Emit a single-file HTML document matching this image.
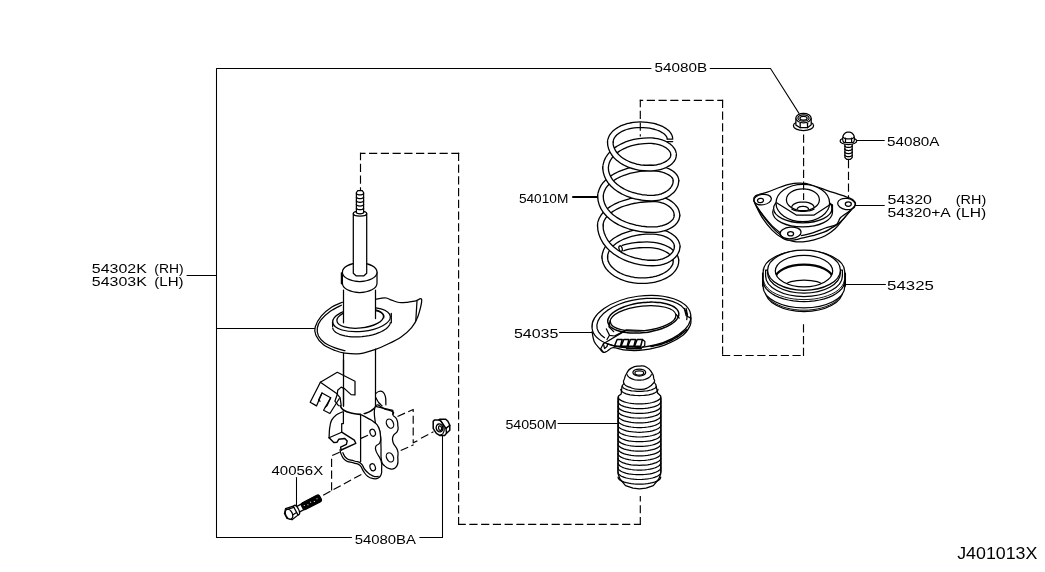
<!DOCTYPE html>
<html><head><meta charset="utf-8"><title>Front suspension strut diagram</title>
<style>
html,body{margin:0;padding:0;background:#fff;}
body{width:1045px;height:572px;overflow:hidden;font-family:"Liberation Sans",sans-serif;}
svg{display:block;filter:grayscale(1);}
svg text{font-family:"Liberation Sans",sans-serif;fill:#000;stroke:none;}
</style></head><body>
<svg width="1045" height="572" viewBox="0 0 1045 572">
<rect width="1045" height="572" fill="#fff"/>
<g fill="none" stroke="#000" stroke-width="1.25" stroke-linecap="round" stroke-linejoin="round">
<path d="M651 68.5 L216.5 68.5 L216.5 537.5 L351.5 537.5" fill="none" stroke-width="1.05"/>
<path d="M710.2 68.5 L770.5 68.5 L799 113.4" fill="none" stroke-width="1.05"/>
<line x1="187" y1="275.5" x2="216.5" y2="275.5" stroke-width="1.05"/>
<line x1="216.5" y1="328.5" x2="314.7" y2="328.5" stroke-width="1.05"/>
<path d="M419.8 537.5 L442.5 537.5 L442.5 435.5" fill="none" stroke-width="1.05"/>
<line x1="296.5" y1="477.6" x2="296.5" y2="506.5" stroke-width="1.05"/>
<line x1="573" y1="197.1" x2="597" y2="197.1" stroke-width="2"/>
<line x1="559.5" y1="332.5" x2="592" y2="332.5" stroke-width="1.05"/>
<line x1="558" y1="423.5" x2="617.5" y2="423.5" stroke-width="1.05"/>
<line x1="857" y1="140.5" x2="884.3" y2="140.5" stroke-width="1.05"/>
<line x1="854.6" y1="205.5" x2="884.3" y2="205.5" stroke-width="1.05"/>
<line x1="844.8" y1="284.5" x2="885.4" y2="284.5" stroke-width="1.05"/>
<path d="M342.4 302.3 C340.7 303.1 335.4 304.8 331.9 307.1 C328.4 309.4 324.2 312.6 321.4 315.9 C318.7 319.2 316.1 323.8 315.2 327 C314.2 330.3 314.6 332.4 316 335.4 C317.4 338.4 320.4 342.3 323.5 344.8 C326.7 347.3 331.5 349.1 335.1 350.5 C338.6 351.9 340.7 352.7 344.9 353.2 C349.1 353.7 355.1 354.3 360.2 353.6 C365.3 353 370.8 351.1 375.5 349.4 C380.3 347.8 384.3 345.9 388.5 343.8 C392.8 341.7 397.3 339.5 401.1 336.9 C405 334.2 408.8 331 411.6 327.6 C414.4 324.2 416.2 321.2 417.9 316.5 C419.6 311.9 422 302.4 421.7 299.7 C421.3 297.1 418.2 300.4 415.8 300.8 C413.4 301.2 410.2 302 407.4 302.3 C404.6 302.5 401.6 302.8 399 302.5 C396.4 302.1 393.9 300.9 391.7 300.2 C389.4 299.4 388 298 385.4 297.9 C382.8 297.7 377.5 298.9 376 299.1" fill="#fff"/>
<path d="M341.4 305.2 C339.5 306.2 333.7 308.8 330.3 311.3 C326.8 313.8 323 317.3 320.8 320.1 C318.7 322.9 317.6 325.4 317.3 328.1 C316.9 330.7 317.3 333.5 318.5 336 C319.8 338.5 322 341 324.8 342.9 C327.6 344.9 331.7 346.5 335.1 347.8 C338.4 349 343.3 350.2 344.9 350.7" fill="none"/>
<path d="M417 301 L415.8 320.7" fill="none"/>
<ellipse cx="361.5" cy="319.4" rx="29" ry="12" fill="#fff" transform="rotate(-6 361.5 319.4)"/>
<path d="M390.3 322.6 L390 324.2 L389.1 325.7 L387.8 327.2 L386.2 328.7 L384.1 330.1 L381.6 331.5 L378.9 332.7 L375.9 333.8 L372.6 334.8 L369.2 335.6 L365.6 336.2 L362 336.6 L358.4 336.9 L354.8 336.9 L351.3 336.8 L348 336.4 L344.9 335.9 L342.1 335.2 L339.6 334.3 L337.4 333.3 L335.6 332.2 L334.2 330.9 L333.2 329.5 L332.7 328" fill="none"/>
<path d="M391.3 313.4 L391.3 322.8" fill="none"/>
<path d="M332.6 322.2 L332.6 326.4" fill="none"/>
<ellipse cx="360.2" cy="318.4" rx="23.4" ry="9.6" fill="none" transform="rotate(-6 360.2 318.4)"/>
<path d="M366.4 309.7 L367.8 309.7 L369.1 309.8 L370.4 309.9 L371.6 310 L372.8 310.1 L374 310.3 L375.1 310.5 L376.2 310.8 L377.2 311 L378.2 311.3 L379.1 311.7 L379.9 312 L380.6 312.4 L381.3 312.8 L381.9 313.2 L382.5 313.7 L382.9 314.1 L383.3 314.6 L383.6 315.1 L383.8 315.6 L383.9 316.2 L383.9 316.7 L383.8 317.2 L383.7 317.8" fill="none"/>
<path d="M343.5 288 L343.5 322.6 Q352 327.5 361 327 Q370 326 375.5 319.5 L375.5 288 Z" fill="#fff" stroke="none"/>
<path d="M343.5 290 L343.5 322.8" fill="none"/>
<path d="M375.5 290 L375.5 318.5" fill="none"/>
<path d="M343.5 353.4 L343.5 406" fill="none"/>
<path d="M375.5 349 L375.5 407" fill="none"/>
<path d="M342.4 272.2 L342.4 283.2 A17.3 9.3 0 0 0 377 283.2 L377 272.2 Z" fill="#fff"/>
<ellipse cx="359.7" cy="272.2" rx="17.3" ry="9.3" fill="#fff"/>
<path d="M341.4 272.8 L341.4 283.8" fill="none"/>
<path d="M353.3 213.6 L353.3 273.3 L356 275.8 L364 275.8 L366.7 273.3 L366.7 213.6 Z" fill="#fff"/>
<ellipse cx="360" cy="213.6" rx="6.7" ry="2.6" fill="#fff"/>
<path d="M356.4 212.5 L356.4 192.5 L357.8 190.6 L362.2 190.6 L363.6 192.5 L363.6 212.5" fill="#fff"/>
<path d="M363.6 212.3 L363.6 212.5 L363.5 212.7 L363.3 212.9 L363.1 213.1 L362.9 213.2 L362.5 213.4 L362.2 213.5 L361.8 213.6 L361.4 213.7 L360.9 213.7 L360.5 213.8 L360 213.8 L359.5 213.8 L359.1 213.7 L358.6 213.7 L358.2 213.6 L357.8 213.5 L357.5 213.4 L357.1 213.2 L356.9 213.1 L356.7 212.9 L356.5 212.7 L356.4 212.5 L356.4 212.3" fill="none"/>
<path d="M363.6 193.3 L363.6 193.5 L363.5 193.7 L363.3 193.9 L363.1 194.1 L362.9 194.3 L362.5 194.4 L362.2 194.6 L361.8 194.7 L361.4 194.8 L360.9 194.8 L360.5 194.9 L360 194.9 L359.5 194.9 L359.1 194.8 L358.6 194.8 L358.2 194.7 L357.8 194.6 L357.5 194.4 L357.1 194.3 L356.9 194.1 L356.7 193.9 L356.5 193.7 L356.4 193.5 L356.4 193.3" fill="none"/>
<path d="M363.6 197 L363.6 197.2 L363.5 197.4 L363.3 197.6 L363.1 197.8 L362.9 198 L362.5 198.1 L362.2 198.3 L361.8 198.4 L361.4 198.5 L360.9 198.5 L360.5 198.6 L360 198.6 L359.5 198.6 L359.1 198.5 L358.6 198.5 L358.2 198.4 L357.8 198.3 L357.5 198.1 L357.1 198 L356.9 197.8 L356.7 197.6 L356.5 197.4 L356.4 197.2 L356.4 197" fill="none"/>
<path d="M363.6 200.7 L363.6 200.9 L363.5 201.1 L363.3 201.3 L363.1 201.5 L362.9 201.7 L362.5 201.8 L362.2 202 L361.8 202.1 L361.4 202.2 L360.9 202.2 L360.5 202.3 L360 202.3 L359.5 202.3 L359.1 202.2 L358.6 202.2 L358.2 202.1 L357.8 202 L357.5 201.8 L357.1 201.7 L356.9 201.5 L356.7 201.3 L356.5 201.1 L356.4 200.9 L356.4 200.7" fill="none"/>
<path d="M363.6 204.4 L363.6 204.6 L363.5 204.8 L363.3 205 L363.1 205.2 L362.9 205.4 L362.5 205.5 L362.2 205.7 L361.8 205.8 L361.4 205.9 L360.9 205.9 L360.5 206 L360 206 L359.5 206 L359.1 205.9 L358.6 205.9 L358.2 205.8 L357.8 205.7 L357.5 205.5 L357.1 205.4 L356.9 205.2 L356.7 205 L356.5 204.8 L356.4 204.6 L356.4 204.4" fill="none"/>
<path d="M363.6 208.1 L363.6 208.3 L363.5 208.5 L363.3 208.7 L363.1 208.9 L362.9 209.1 L362.5 209.2 L362.2 209.4 L361.8 209.5 L361.4 209.6 L360.9 209.6 L360.5 209.7 L360 209.7 L359.5 209.7 L359.1 209.6 L358.6 209.6 L358.2 209.5 L357.8 209.4 L357.5 209.2 L357.1 209.1 L356.9 208.9 L356.7 208.7 L356.5 208.5 L356.4 208.3 L356.4 208.1" fill="none"/>
<path d="M340.1 405.6 C340.6 406.3 341.3 408.8 343.3 410 C345.2 411.3 348.9 412.5 351.9 413.2 C354.9 413.9 358.5 414.5 361.3 414.3 C364.2 414.1 366.8 413.1 369.2 411.9 C371.6 410.7 374.4 408 375.5 407.2" fill="none" stroke-width="1.6"/>
<path d="M375.5 406.3 C378 402.4 380.3 407.7 384.9 409.1 C389.5 410.6 390.6 410.2 392.8 411.8 C395 413.4 392.1 413.3 393.1 415.3 C394.2 417.2 395.5 416.5 396.7 419.2 C398 421.8 397.6 422 397.8 425.2 C398 428.3 398.8 428 397.5 431 C396.3 433.9 394.3 433.1 393.1 436.2 C391.9 439.2 391.9 438.7 393.1 442.5 C394.3 446.2 396.3 446.3 397.5 450.3 C398.8 454.3 397.8 453.6 397.8 457.4 C397.8 461.2 398.4 461.5 397.5 464.5 C396.6 467.4 396.5 467.3 394.4 468.4 C392.3 469.6 392.2 469.4 389.7 468.7 C387.1 468.1 387.1 468.2 384.9 466.1 C382.8 463.9 382.5 465.6 381.5 460.6 C380.4 455.5 381.3 453.7 381 447.2 C380.7 440.7 381.2 441.4 380.5 436.2 C379.9 430.9 380 430.9 378.6 427.5 C377.3 424.2 376.3 429.3 375.5 423.6 C374.7 417.9 373 410.1 375.5 406.3 Z" fill="#fff"/>
<ellipse cx="390" cy="423.6" rx="3.4" ry="4.8" fill="none" transform="rotate(-25 390 423.6)"/>
<ellipse cx="390" cy="457.4" rx="3.4" ry="4.8" fill="none" transform="rotate(-25 390 457.4)"/>
<path d="M375.5 393.8 C376 393.4 377.5 391.8 378.6 391.5 C379.8 391.1 381.4 390.9 382.6 391.8 C383.7 392.6 384.9 394.3 385.4 396.5 C386 398.7 385.8 403.4 385.9 404.8" fill="none"/>
<path d="M375.8 397.7 C376.3 398.5 377.6 401.1 378.6 402.5 C379.7 403.8 381.5 405.3 382.1 405.9" fill="none"/>
<path d="M375.5 406.4 L392.8 410.3 L392.8 414.3" fill="none"/>
<path d="M360.6 414.5 C362.4 408.8 364.1 416.1 367.6 418.1 C371.2 420.1 371 419.5 373.9 422 C376.9 424.5 376.9 423.7 378.6 427.5 C380.4 431.3 380.2 432.1 380.5 436.2 C380.9 440.2 381.2 440.1 379.9 442.8 C378.6 445.5 376.7 444 375.8 446.4 C374.9 448.8 375.1 448.1 376.4 451.9 C377.8 455.7 379.6 455.9 381 460.6 C382.4 465.2 381.6 465.6 381.6 469.2 C381.7 472.9 382 471.9 381.2 474.2 C380.3 476.6 380.5 476.8 378.3 478 C376.2 479.2 376 479.1 373.1 478.6 C370.3 478.2 370.3 478.4 367.6 476.3 C365 474.2 365.3 473.7 363.2 470.8 C361.1 467.8 362.4 467.4 359.8 465.3 C357.2 463.2 357.3 464.2 353.5 462.9 C349.7 461.7 348.9 462.9 345.6 460.6 C342.3 458.2 342.7 457.2 341.2 454.3 C339.7 451.3 338.5 451.9 340.1 449.5 C341.7 447.2 341.7 448.3 347.2 445.6 C352.6 442.9 357 447.6 360.6 439.3 C364.1 431 358.7 420.1 360.6 414.5 Z" fill="#fff" stroke="none"/>
<path d="M360.6 414.5 C362.4 415.4 364.1 416.1 367.6 418.1 C371.2 420.1 371 419.5 373.9 422 C376.9 424.5 376.9 423.7 378.6 427.5 C380.4 431.3 380.2 432.1 380.5 436.2 C380.9 440.2 381.2 440.1 379.9 442.8 C378.6 445.5 376.7 444 375.8 446.4 C374.9 448.8 375.1 448.1 376.4 451.9 C377.8 455.7 379.6 455.9 381 460.6 C382.4 465.2 381.6 465.6 381.6 469.2 C381.7 472.9 382 471.9 381.2 474.2 C380.3 476.6 380.5 476.8 378.3 478 C376.2 479.2 376 479.1 373.1 478.6 C370.3 478.2 370.3 478.4 367.6 476.3 C365 474.2 365.3 473.7 363.2 470.8 C361.1 467.8 362.4 467.4 359.8 465.3 C357.2 463.2 357.3 464.2 353.5 462.9 C349.7 461.7 348.9 462.9 345.6 460.6 C342.3 458.2 342.7 457.2 341.2 454.3 C339.7 451.3 340.4 450.8 340.1 449.5" fill="none"/>
<path d="M342.8 452.7 C343.8 454.2 343.7 456.3 346.7 458.5 C349.8 460.7 350.5 459.7 354.3 461 C358 462.3 358.1 461.1 360.9 463.4 C363.7 465.6 362.5 466.7 364.8 469.5 C367.1 472.3 367.1 472.1 369.5 473.9 C372 475.8 371.6 475.8 373.9 476.4 C376.2 477.1 377 476.4 378.2 476.4" fill="none"/>
<path d="M360.6 414.5 L360.6 461.7" fill="none"/>
<ellipse cx="372.7" cy="432.7" rx="2.6" ry="3.6" fill="none" transform="rotate(-20 372.7 432.7)"/>
<ellipse cx="372.7" cy="467.3" rx="2.6" ry="3.6" fill="none" transform="rotate(-20 372.7 467.3)"/>
<path d="M342.8 411.8 C341.7 412.3 338.1 413.5 336.2 414.9 C334.3 416.4 332.6 418.2 331.5 420.4 C330.4 422.7 330 425.4 329.6 428.3 C329.2 431.2 329.2 436.2 329.1 437.7" fill="none"/>
<path d="M329.1 437.7 L341.7 432.2 L341.7 423.6 L343.4 423.6 L343.4 411.8" fill="none"/>
<path d="M341.7 432.2 L354.3 440.1 L355.8 443.3 L341.2 450" fill="none" stroke-width="1.4"/>
<path d="M329.1 437.7 L333.8 442.5 L337.1 442.2 L338.7 439.3 L344.8 438.5 L347.2 440.9 L346.4 444.4 L340.6 447.2 L341.2 450" fill="none" stroke-width="1.4"/>
<path d="M320.4 382.3 L337.3 372.3 L355 381.2 L355 394.9 L351.1 394.6 L344.5 388.6 L341.2 387.1 L337.7 390.2 L337.3 394.3 L340.1 397.7 L341.2 405.6" fill="#fff"/>
<path d="M320.4 382.3 L310.2 402.2 L316.5 405.9 L322 393 L330.7 397.7 L323.6 410.3 L329.9 413.5 L339.3 398.5" fill="none"/>
<path d="M320.4 382.3 L337.4 394.1" fill="none"/>
<path d="M322 393 L318.6 400.1 L320.1 401.2" fill="none"/>
<path d="M330.7 397.7 L327.1 405.6 L325.2 407.2" fill="none"/>
<path d="M337.3 394.3 L334.9 401.2 L338.5 405.6" fill="none"/>
<path d="M343.5 360 L343.5 406" fill="none"/>
<g transform="translate(291.6 512.6) rotate(-27.6)">
<rect x="5" y="-3.1" width="27" height="6.2" rx="1.5" fill="#fff"/>
<rect x="12" y="-3.7" width="20.5" height="7.4" rx="2.2" fill="#000"/>
<circle cx="14.5" cy="-0.4" r="0.55" fill="#fff" stroke="none"/>
<circle cx="18.1" cy="0.6" r="0.55" fill="#fff" stroke="none"/>
<circle cx="21.7" cy="-0.4" r="0.55" fill="#fff" stroke="none"/>
<circle cx="25.3" cy="0.6" r="0.55" fill="#fff" stroke="none"/>
<circle cx="28.9" cy="-0.4" r="0.55" fill="#fff" stroke="none"/>
<ellipse cx="5.5" cy="0" rx="2.2" ry="5.2" fill="#fff"/>
<path d="M4.5 -5 L-3.5 -6.4 L-6.8 -2.5 L-6.8 3 L-3 6.5 L4.5 5.2 Z" fill="#fff"/>
<ellipse cx="-3" cy="0.2" rx="3.3" ry="5.2" fill="#fff"/>
<line x1="-3" y1="-5" x2="4.5" y2="-3.6"/><line x1="-0.2" y1="2.6" x2="4.5" y2="2.2"/>
</g>
<path d="M433.2 421.3 L434.4 420.1 L439 419.9 L439.7 419.2 L445.7 419.2 L447.9 421.3 L449.8 425.3 L449.8 430.2 L446.5 433.3 L444.8 435.4 L439.6 435.4 L436.4 433.4 L434.7 430.8 L433.2 428.4 Z" fill="#fff" stroke-width="1.5"/>
<path d="M441.1 421.3 L446 428.4 L449.8 425.3" fill="none" stroke-width="1.4"/>
<path d="M446 428.4 L446.5 433.3" fill="none" stroke-width="1.4"/>
<path d="M439 419.9 L441.1 421.3" fill="none" stroke-width="1.4"/>
<path d="M441.1 421.3 C441.5 422.1 443.1 424.4 443.6 425.9 C444.1 427.4 444.3 428.9 444.2 430.2 C444 431.5 443.4 433 442.7 433.9 C441.9 434.7 440.1 435.2 439.6 435.4" fill="none" stroke-width="1.2"/>
<ellipse cx="439.5" cy="427.9" rx="3.3" ry="4" fill="none" transform="rotate(-10 439.5 427.9)" stroke-width="1.4"/>
<ellipse cx="440.1" cy="428.1" rx="1.5" ry="2.3" fill="none" transform="rotate(-10 440.1 428.1)" stroke-width="1.2"/>
<path d="M676 261 L675.8 259.2 L675.3 257.4 L674.4 255.6 L673.1 253.9 L671.5 252.3 L669.6 250.8 L667.4 249.5 L665 248.3 L662.3 247.2 L659.4 246.3 L656.4 245.6 L653.2 245.1 L650 244.8 L646.7 244.7 L646.7 244.7 L642.9 244.8 L639.1 245 L635.4 245.4 L631.9 245.9 L628.5 246.5 L625.4 247.3 L622.5 248.2" stroke="#000" stroke-width="6.8" stroke-linecap="butt"/>
<path d="M676.1 261.9 L676 261 L675.8 259.2 L675.3 257.4 L674.4 255.6 L673.1 253.9 L671.5 252.3 L669.6 250.8 L667.4 249.5 L665 248.3 L662.3 247.2 L659.4 246.3 L656.4 245.6 L653.2 245.1 L650 244.8 L646.7 244.7 L646.7 244.7 L642.9 244.8 L639.1 245 L635.4 245.4 L631.9 245.9 L628.5 246.5 L625.4 247.3 L622.5 248.2 L621.7 248.4" stroke="#fff" stroke-width="4.2" stroke-linecap="butt"/>
<ellipse cx="620.6" cy="248.6" rx="1.6" ry="2.9" fill="#fff" transform="rotate(-15 620.6 248.6)"/>
<path d="M677.2 247.4 L677.2 246.5 L677 244.8 L676.5 243.1 L675.7 241.4 L674.6 239.9 L673.2 238.4 L671.5 237 L669.5 235.7 L667.3 234.5 L664.9 233.5 L662.3 232.7 L659.6 232.1 L656.8 231.6 L653.8 231.3 L650.9 231.2 L650.9 231.2 L645.7 231.4 L640.6 231.8 L635.7 232.6 L630.9 233.8 L626.4 235.2 L622.2 236.8 L618.3 238.8 L614.9 240.9 L611.9 243.3 L609.4 245.8 L607.4 248.5 L606 251.3 L605.1 254.1 L604.8 257 L604.9 258.5" stroke="#000" stroke-width="6.8" stroke-linecap="butt"/>
<path d="M677.1 248.3 L677.2 247.4 L677.2 246.5 L677 244.8 L676.5 243.1 L675.7 241.4 L674.6 239.9 L673.2 238.4 L671.5 237 L669.5 235.7 L667.3 234.5 L664.9 233.5 L662.3 232.7 L659.6 232.1 L656.8 231.6 L653.8 231.3 L650.9 231.2 L650.9 231.2 L645.7 231.4 L640.6 231.8 L635.7 232.6 L630.9 233.8 L626.4 235.2 L622.2 236.8 L618.3 238.8 L614.9 240.9 L611.9 243.3 L609.4 245.8 L607.4 248.5 L606 251.3 L605.1 254.1 L604.8 257 L604.9 258.5 L604.9 259.4" stroke="#fff" stroke-width="4.2" stroke-linecap="butt"/>
<path d="M677 216.4 L677 215.4 L676.8 213.5 L676.4 211.7 L675.7 209.9 L674.6 208.2 L673.3 206.6 L671.8 205.1 L670 203.7 L668 202.4 L665.8 201.3 L663.4 200.4 L660.9 199.7 L658.3 199.2 L655.7 198.9 L653 198.8 L653 198.8 L647.1 199 L641.3 199.5 L635.6 200.3 L630.1 201.4 L625 202.9 L620.1 204.6 L615.7 206.6 L611.8 208.9 L608.4 211.3 L605.5 213.9 L603.3 216.7 L601.6 219.6 L600.6 222.5 L600.3 225.5 L600.4 227.1" stroke="#000" stroke-width="6.8" stroke-linecap="butt"/>
<path d="M676.9 217.3 L677 216.4 L677 215.4 L676.8 213.5 L676.4 211.7 L675.7 209.9 L674.6 208.2 L673.3 206.6 L671.8 205.1 L670 203.7 L668 202.4 L665.8 201.3 L663.4 200.4 L660.9 199.7 L658.3 199.2 L655.7 198.9 L653 198.8 L653 198.8 L647.1 199 L641.3 199.5 L635.6 200.3 L630.1 201.4 L625 202.9 L620.1 204.6 L615.7 206.6 L611.8 208.9 L608.4 211.3 L605.5 213.9 L603.3 216.7 L601.6 219.6 L600.6 222.5 L600.3 225.5 L600.4 227.1 L600.4 228" stroke="#fff" stroke-width="4.2" stroke-linecap="butt"/>
<path d="M676 181.5 L676 180.7 L675.8 179.3 L675.4 177.9 L674.6 176.5 L673.5 175.2 L672.2 173.9 L670.5 172.8 L668.6 171.7 L666.5 170.8 L664.3 169.9 L661.8 169.3 L659.2 168.7 L656.5 168.3 L653.7 168.1 L650.9 168 L650.9 168 L645.3 168.2 L639.7 168.7 L634.3 169.6 L629 170.8 L624.1 172.4 L619.5 174.2 L615.3 176.3 L611.5 178.7 L608.2 181.3 L605.5 184.1 L603.3 187.1 L601.8 190.2 L600.8 193.3 L600.5 196.5 L600.6 198.2" stroke="#000" stroke-width="6.8" stroke-linecap="butt"/>
<path d="M675.9 182.4 L676 181.5 L676 180.7 L675.8 179.3 L675.4 177.9 L674.6 176.5 L673.5 175.2 L672.2 173.9 L670.5 172.8 L668.6 171.7 L666.5 170.8 L664.3 169.9 L661.8 169.3 L659.2 168.7 L656.5 168.3 L653.7 168.1 L650.9 168 L650.9 168 L645.3 168.2 L639.7 168.7 L634.3 169.6 L629 170.8 L624.1 172.4 L619.5 174.2 L615.3 176.3 L611.5 178.7 L608.2 181.3 L605.5 184.1 L603.3 187.1 L601.8 190.2 L600.8 193.3 L600.5 196.5 L600.6 198.2 L600.6 199.1" stroke="#fff" stroke-width="4.2" stroke-linecap="butt"/>
<path d="M673.6 155.8 L673.6 154.9 L673.4 153.3 L673 151.7 L672.2 150.2 L671.1 148.7 L669.8 147.3 L668.2 146 L666.3 144.8 L664.3 143.7 L662 142.8 L659.6 142 L657 141.4 L654.3 141 L651.6 140.7 L648.8 140.6 L648.8 140.6 L644 140.8 L639.2 141.3 L634.5 142.1 L630.1 143.3 L625.8 144.8 L621.9 146.6 L618.3 148.6 L615 150.9 L612.2 153.4 L609.9 156.1 L608 159 L606.7 161.9 L605.9 164.9 L605.6 168 L605.7 169.6" stroke="#000" stroke-width="6.8" stroke-linecap="butt"/>
<path d="M673.5 156.7 L673.6 155.8 L673.6 154.9 L673.4 153.3 L673 151.7 L672.2 150.2 L671.1 148.7 L669.8 147.3 L668.2 146 L666.3 144.8 L664.3 143.7 L662 142.8 L659.6 142 L657 141.4 L654.3 141 L651.6 140.7 L648.8 140.6 L648.8 140.6 L644 140.8 L639.2 141.3 L634.5 142.1 L630.1 143.3 L625.8 144.8 L621.9 146.6 L618.3 148.6 L615 150.9 L612.2 153.4 L609.9 156.1 L608 159 L606.7 161.9 L605.9 164.9 L605.6 168 L605.7 169.6 L605.7 170.5" stroke="#fff" stroke-width="4.2" stroke-linecap="butt"/>
<path d="M670 139.2 L669.8 137.6 L669.3 136 L668.3 134.4 L667.1 132.9 L665.5 131.5 L663.5 130.2 L661.3 128.9 L658.9 127.9 L656.1 126.9 L653.2 126.1 L650.2 125.5 L647 125.1 L643.7 124.8 L640.4 124.7 L640.4 124.7 L637 124.8 L633.7 125.1 L630.5 125.7 L627.3 126.4 L624.4 127.4 L621.6 128.5 L619.1 129.9 L616.9 131.3 L614.9 132.9 L613.3 134.7 L612 136.5 L611.1 138.4 L610.5 140.3 L610.3 142.3 L610.4 143.4" stroke="#000" stroke-width="6.8" stroke-linecap="butt"/>
<path d="M670.1 140.1 L670 139.2 L669.8 137.6 L669.3 136 L668.3 134.4 L667.1 132.9 L665.5 131.5 L663.5 130.2 L661.3 128.9 L658.9 127.9 L656.1 126.9 L653.2 126.1 L650.2 125.5 L647 125.1 L643.7 124.8 L640.4 124.7 L640.4 124.7 L637 124.8 L633.7 125.1 L630.5 125.7 L627.3 126.4 L624.4 127.4 L621.6 128.5 L619.1 129.9 L616.9 131.3 L614.9 132.9 L613.3 134.7 L612 136.5 L611.1 138.4 L610.5 140.3 L610.3 142.3 L610.4 143.4 L610.4 144.3" stroke="#fff" stroke-width="4.2" stroke-linecap="butt"/>
<path d="M667.3 139.2 L672.7 139.2" fill="none"/>
<path d="M667.3 141.6 L672.7 141.6" fill="none"/>
<path d="M604.9 255.6 L604.8 257 L605 259.7 L605.7 262.3 L606.9 264.8 L608.5 267.3 L610.6 269.6 L613 271.8 L615.8 273.8 L619 275.5 L622.4 277.1 L626.1 278.4 L630 279.4 L634.1 280.1 L638.3 280.6 L642.5 280.7 L642.5 280.7 L646.3 280.6 L650 280.2 L653.6 279.6 L657 278.7 L660.3 277.7 L663.4 276.4 L666.2 274.9 L668.7 273.3 L670.9 271.5 L672.7 269.5 L674.1 267.5 L675.2 265.4 L675.8 263.2 L676 261 L675.9 259.8" stroke="#000" stroke-width="6.8" stroke-linecap="butt"/>
<path d="M604.9 254.7 L604.9 255.6 L604.8 257 L605 259.7 L605.7 262.3 L606.9 264.8 L608.5 267.3 L610.6 269.6 L613 271.8 L615.8 273.8 L619 275.5 L622.4 277.1 L626.1 278.4 L630 279.4 L634.1 280.1 L638.3 280.6 L642.5 280.7 L642.5 280.7 L646.3 280.6 L650 280.2 L653.6 279.6 L657 278.7 L660.3 277.7 L663.4 276.4 L666.2 274.9 L668.7 273.3 L670.9 271.5 L672.7 269.5 L674.1 267.5 L675.2 265.4 L675.8 263.2 L676 261 L675.9 259.8 L675.9 258.9" stroke="#fff" stroke-width="4.2" stroke-linecap="butt"/>
<path d="M600.4 223.3 L600.3 225.5 L600.6 229.7 L601.6 233.8 L603.3 237.9 L605.5 241.8 L608.4 245.5 L611.8 248.9 L615.7 252 L620.1 254.8 L625 257.3 L630.1 259.3 L635.6 260.9 L641.3 262.1 L647.1 262.8 L653 263 L653 263 L655.7 262.9 L658.4 262.6 L661 262.1 L663.5 261.4 L665.9 260.5 L668.1 259.4 L670.1 258.2 L671.9 256.8 L673.5 255.3 L674.8 253.7 L675.8 251.9 L676.6 250.2 L677 248.3 L677.2 246.5 L677.2 245.5" stroke="#000" stroke-width="6.8" stroke-linecap="butt"/>
<path d="M600.4 222.4 L600.4 223.3 L600.3 225.5 L600.6 229.7 L601.6 233.8 L603.3 237.9 L605.5 241.8 L608.4 245.5 L611.8 248.9 L615.7 252 L620.1 254.8 L625 257.3 L630.1 259.3 L635.6 260.9 L641.3 262.1 L647.1 262.8 L653 263 L653 263 L655.7 262.9 L658.4 262.6 L661 262.1 L663.5 261.4 L665.9 260.5 L668.1 259.4 L670.1 258.2 L671.9 256.8 L673.5 255.3 L674.8 253.7 L675.8 251.9 L676.6 250.2 L677 248.3 L677.2 246.5 L677.2 245.5 L677.1 244.6" stroke="#fff" stroke-width="4.2" stroke-linecap="butt"/>
<path d="M600.6 194.5 L600.5 196.5 L600.8 200.2 L601.8 203.9 L603.4 207.5 L605.6 210.9 L608.5 214.2 L611.8 217.2 L615.7 220 L620 222.5 L624.8 224.6 L629.9 226.4 L635.3 227.8 L640.9 228.9 L646.6 229.5 L652.4 229.7 L652.4 229.7 L655.2 229.6 L657.9 229.3 L660.5 228.9 L663.1 228.3 L665.5 227.5 L667.7 226.6 L669.8 225.5 L671.6 224.3 L673.2 223 L674.6 221.6 L675.6 220.1 L676.4 218.6 L676.8 217 L677 215.4 L677 214.5" stroke="#000" stroke-width="6.8" stroke-linecap="butt"/>
<path d="M600.6 193.6 L600.6 194.5 L600.5 196.5 L600.8 200.2 L601.8 203.9 L603.4 207.5 L605.6 210.9 L608.5 214.2 L611.8 217.2 L615.7 220 L620 222.5 L624.8 224.6 L629.9 226.4 L635.3 227.8 L640.9 228.9 L646.6 229.5 L652.4 229.7 L652.4 229.7 L655.2 229.6 L657.9 229.3 L660.5 228.9 L663.1 228.3 L665.5 227.5 L667.7 226.6 L669.8 225.5 L671.6 224.3 L673.2 223 L674.6 221.6 L675.6 220.1 L676.4 218.6 L676.8 217 L677 215.4 L677 214.5 L676.9 213.6" stroke="#fff" stroke-width="4.2" stroke-linecap="butt"/>
<path d="M605.7 166.2 L605.6 168 L605.9 171.4 L606.8 174.7 L608.2 177.9 L610.2 181.1 L612.7 184 L615.7 186.8 L619.2 189.3 L623 191.5 L627.3 193.5 L631.8 195.1 L636.6 196.4 L641.6 197.3 L646.7 197.9 L651.9 198.1 L651.9 198.1 L654.6 198 L657.3 197.7 L659.9 197.1 L662.4 196.4 L664.7 195.4 L666.9 194.3 L668.9 193 L670.7 191.5 L672.3 190 L673.6 188.2 L674.6 186.4 L675.4 184.6 L675.8 182.6 L676 180.7 L676 179.7" stroke="#000" stroke-width="6.8" stroke-linecap="butt"/>
<path d="M605.7 165.3 L605.7 166.2 L605.6 168 L605.9 171.4 L606.8 174.7 L608.2 177.9 L610.2 181.1 L612.7 184 L615.7 186.8 L619.2 189.3 L623 191.5 L627.3 193.5 L631.8 195.1 L636.6 196.4 L641.6 197.3 L646.7 197.9 L651.9 198.1 L651.9 198.1 L654.6 198 L657.3 197.7 L659.9 197.1 L662.4 196.4 L664.7 195.4 L666.9 194.3 L668.9 193 L670.7 191.5 L672.3 190 L673.6 188.2 L674.6 186.4 L675.4 184.6 L675.8 182.6 L676 180.7 L676 179.7 L675.9 178.8" stroke="#fff" stroke-width="4.2" stroke-linecap="butt"/>
<path d="M610.4 140.7 L610.3 142.3 L610.5 145.2 L611.3 148.1 L612.5 150.9 L614.1 153.5 L616.2 156.1 L618.7 158.4 L621.6 160.6 L624.8 162.5 L628.3 164.2 L632.1 165.6 L636.1 166.7 L640.2 167.6 L644.5 168 L648.8 168.2 L648.8 168.2 L651.6 168.1 L654.3 167.9 L657 167.5 L659.6 166.9 L662 166.2 L664.3 165.3 L666.3 164.3 L668.2 163.2 L669.8 162 L671.1 160.7 L672.2 159.3 L673 157.9 L673.4 156.4 L673.6 154.9 L673.6 154.1" stroke="#000" stroke-width="6.8" stroke-linecap="butt"/>
<path d="M610.4 139.8 L610.4 140.7 L610.3 142.3 L610.5 145.2 L611.3 148.1 L612.5 150.9 L614.1 153.5 L616.2 156.1 L618.7 158.4 L621.6 160.6 L624.8 162.5 L628.3 164.2 L632.1 165.6 L636.1 166.7 L640.2 167.6 L644.5 168 L648.8 168.2 L648.8 168.2 L651.6 168.1 L654.3 167.9 L657 167.5 L659.6 166.9 L662 166.2 L664.3 165.3 L666.3 164.3 L668.2 163.2 L669.8 162 L671.1 160.7 L672.2 159.3 L673 157.9 L673.4 156.4 L673.6 154.9 L673.6 154.1 L673.5 153.2" stroke="#fff" stroke-width="4.2" stroke-linecap="butt"/>
<path d="M592.1 331.6 C592.4 333.2 592.9 338.5 594.2 341.4 C595.4 344.2 598.2 346.9 599.7 348.7 C601.2 350.6 602.1 352 603.4 352.4 C604.6 352.8 605.4 351.9 607 351.2 C608.7 350.4 609.9 347.9 613.1 347.7 C616.4 347.6 621.5 349.8 626.6 350.2 C631.7 350.6 637.4 350.8 643.7 349.9 C650 349.1 658 347.5 664.5 345.1 C671 342.6 678.6 338.5 682.9 335.3 C687.2 332 688.9 328.3 690.2 325.5 C691.6 322.6 690.8 319.4 690.9 318.1" fill="#fff"/>
<ellipse cx="641.4" cy="321.6" rx="49.8" ry="25.6" fill="#fff" transform="rotate(-8 641.4 321.6)"/>
<path d="M604.5 337.7 L601 334.9 L598.5 331.8 L597.1 328.4 L596.9 324.8 L597.9 321.1 L600 317.4 L603.2 313.8 L607.4 310.4 L612.6 307.3 L618.4 304.5 L624.9 302.2 L631.9 300.4 L639.1 299.1 L646.4 298.4 L653.5 298.3 L660.4 298.7 L666.8 299.8 L672.5 301.4 L677.5 303.5 L681.5 306.1 L684.5 309.1 L686.4 312.4 L687.2 315.9 L686.7 319.6" fill="none"/>
<path d="M686.5 329.8 L679.2 335.9 L670.6 340.8 L660.9 344.4 L651.1 346.5" stroke-dasharray="1.6 1.2" stroke-width="1.6"/>
<ellipse cx="643.3" cy="317.6" rx="35.8" ry="15" fill="none" transform="rotate(-7 643.3 317.6)" stroke-width="1.5" stroke-dasharray="5 1"/>
<ellipse cx="643.1" cy="318.4" rx="33" ry="12.4" fill="none" transform="rotate(-6 643.1 318.4)"/>
<path d="M606.4 328.9 L609.5 335.3 L614.4 336 L626.6 329.9 L643.7 330.5" fill="none"/>
<path d="M609.5 335.3 L607 339.5" fill="none"/>
<path d="M610.1 320.6 L608.9 326.7 L613.7 331.6" fill="none"/>
<path d="M684.3 308.4 L686.1 315.7 L690.9 318.1" fill="none"/>
<path d="M686.1 308.4 L687.5 315.1" fill="none"/>
<path d="M676.1 314.5 L679.2 318.1" fill="none"/>
<path d="M625.4 330.6 L603.4 343.8 L604.6 348.5 L607 346.5 L607.6 343.8" fill="none"/>
<path d="M603.4 343.8 L600.7 348.7 L603.4 352.4" fill="none"/>
<path d="M607.6 343.8 L613.1 345.7" fill="none"/>
<path d="M617.1 339.5 L622.2 339.5 L620.5 346.3 L614.4 346.3 Z" fill="none" stroke-width="1.5"/>
<path d="M623.8 339.5 L628.9 339.5 L627.2 346.3 L621.1 346.3 Z" fill="none" stroke-width="1.5"/>
<path d="M630.5 339.5 L635.6 339.5 L633.9 346.3 L627.8 346.3 Z" fill="none" stroke-width="1.5"/>
<path d="M637.2 339.5 L642.4 339.5 L640.7 346.3 L634.5 346.3 Z" fill="none" stroke-width="1.5"/>
<path d="M642.5 339.5 L644.9 341.4 L644.7 345.7 L642.5 347.3" fill="none"/>
<path d="M626.6 348.7 L641.3 348.7" fill="none" stroke-width="1.6"/>
<path d="M618.5 396 L618.1 474 L620 479 L625.5 485.6 L633 488.2 L639.4 488.9 L646 488.2 L653.3 485.6 L658.8 479 L660.7 474 L660.7 396 L657.6 393 L655.8 384.5 L654 382 L624 383.3 L622 386 L621.2 394 Z" fill="#fff"/>
<path d="M660.7 477.2 L660.5 478.1 L660 479 L659.1 479.9 L657.8 480.7 L656.3 481.4 L654.5 482.1 L652.4 482.7 L650 483.2 L647.6 483.6 L644.9 483.9 L642.2 484.1 L639.4 484.2 L636.6 484.1 L633.9 483.9 L631.2 483.6 L628.8 483.2 L626.4 482.7 L624.3 482.1 L622.5 481.4 L621 480.7 L619.7 479.9 L618.8 479 L618.3 478.1 L618.1 477.2" fill="none"/>
<path d="M660.7 472.5 L660.5 473.4 L660 474.3 L659.1 475.1 L657.8 476 L656.3 476.7 L654.5 477.4 L652.4 478 L650 478.5 L647.6 478.9 L644.9 479.2 L642.2 479.4 L639.4 479.5 L636.6 479.4 L633.9 479.2 L631.2 478.9 L628.8 478.5 L626.4 478 L624.3 477.4 L622.5 476.7 L621 476 L619.7 475.1 L618.8 474.3 L618.3 473.4 L618.1 472.5" fill="none"/>
<path d="M660.7 467.7 L660.5 468.7 L660 469.6 L659.1 470.4 L657.8 471.2 L656.3 472 L654.5 472.7 L652.4 473.3 L650 473.8 L647.6 474.2 L644.9 474.5 L642.2 474.7 L639.4 474.7 L636.6 474.7 L633.9 474.5 L631.2 474.2 L628.8 473.8 L626.4 473.3 L624.3 472.7 L622.5 472 L621 471.2 L619.7 470.4 L618.8 469.6 L618.3 468.7 L618.1 467.7" fill="none"/>
<path d="M660.7 463 L660.5 463.9 L660 464.8 L659.1 465.7 L657.8 466.5 L656.3 467.3 L654.5 468 L652.4 468.6 L650 469.1 L647.6 469.5 L644.9 469.8 L642.2 470 L639.4 470 L636.6 470 L633.9 469.8 L631.2 469.5 L628.8 469.1 L626.4 468.6 L624.3 468 L622.5 467.3 L621 466.5 L619.7 465.7 L618.8 464.8 L618.3 463.9 L618.1 463" fill="none"/>
<path d="M660.7 458.3 L660.5 459.2 L660 460.1 L659.1 461 L657.8 461.8 L656.3 462.6 L654.5 463.2 L652.4 463.9 L650 464.4 L647.6 464.8 L644.9 465.1 L642.2 465.2 L639.4 465.3 L636.6 465.2 L633.9 465.1 L631.2 464.8 L628.8 464.4 L626.4 463.9 L624.3 463.2 L622.5 462.6 L621 461.8 L619.7 461 L618.8 460.1 L618.3 459.2 L618.1 458.3" fill="none"/>
<path d="M660.7 453.6 L660.5 454.5 L660 455.4 L659.1 456.3 L657.8 457.1 L656.3 457.8 L654.5 458.5 L652.4 459.1 L650 459.6 L647.6 460 L644.9 460.3 L642.2 460.5 L639.4 460.6 L636.6 460.5 L633.9 460.3 L631.2 460 L628.8 459.6 L626.4 459.1 L624.3 458.5 L622.5 457.8 L621 457.1 L619.7 456.3 L618.8 455.4 L618.3 454.5 L618.1 453.6" fill="none"/>
<path d="M660.7 448.9 L660.5 449.8 L660 450.7 L659.1 451.5 L657.8 452.4 L656.3 453.1 L654.5 453.8 L652.4 454.4 L650 454.9 L647.6 455.3 L644.9 455.6 L642.2 455.8 L639.4 455.9 L636.6 455.8 L633.9 455.6 L631.2 455.3 L628.8 454.9 L626.4 454.4 L624.3 453.8 L622.5 453.1 L621 452.4 L619.7 451.5 L618.8 450.7 L618.3 449.8 L618.1 448.9" fill="none"/>
<path d="M660.7 444.1 L660.5 445.1 L660 446 L659.1 446.8 L657.8 447.6 L656.3 448.4 L654.5 449.1 L652.4 449.7 L650 450.2 L647.6 450.6 L644.9 450.9 L642.2 451.1 L639.4 451.1 L636.6 451.1 L633.9 450.9 L631.2 450.6 L628.8 450.2 L626.4 449.7 L624.3 449.1 L622.5 448.4 L621 447.6 L619.7 446.8 L618.8 446 L618.3 445.1 L618.1 444.1" fill="none"/>
<path d="M660.7 439.4 L660.5 440.3 L660 441.2 L659.1 442.1 L657.8 442.9 L656.3 443.7 L654.5 444.4 L652.4 445 L650 445.5 L647.6 445.9 L644.9 446.2 L642.2 446.4 L639.4 446.4 L636.6 446.4 L633.9 446.2 L631.2 445.9 L628.8 445.5 L626.4 445 L624.3 444.4 L622.5 443.7 L621 442.9 L619.7 442.1 L618.8 441.2 L618.3 440.3 L618.1 439.4" fill="none"/>
<path d="M660.7 434.7 L660.5 435.6 L660 436.5 L659.1 437.4 L657.8 438.2 L656.3 439 L654.5 439.6 L652.4 440.3 L650 440.8 L647.6 441.2 L644.9 441.5 L642.2 441.6 L639.4 441.7 L636.6 441.6 L633.9 441.5 L631.2 441.2 L628.8 440.8 L626.4 440.3 L624.3 439.6 L622.5 439 L621 438.2 L619.7 437.4 L618.8 436.5 L618.3 435.6 L618.1 434.7" fill="none"/>
<path d="M660.7 430 L660.5 430.9 L660 431.8 L659.1 432.7 L657.8 433.5 L656.3 434.2 L654.5 434.9 L652.4 435.5 L650 436 L647.6 436.4 L644.9 436.7 L642.2 436.9 L639.4 437 L636.6 436.9 L633.9 436.7 L631.2 436.4 L628.8 436 L626.4 435.5 L624.3 434.9 L622.5 434.2 L621 433.5 L619.7 432.7 L618.8 431.8 L618.3 430.9 L618.1 430" fill="none"/>
<path d="M660.7 425.3 L660.5 426.2 L660 427.1 L659.1 427.9 L657.8 428.8 L656.3 429.5 L654.5 430.2 L652.4 430.8 L650 431.3 L647.6 431.7 L644.9 432 L642.2 432.2 L639.4 432.3 L636.6 432.2 L633.9 432 L631.2 431.7 L628.8 431.3 L626.4 430.8 L624.3 430.2 L622.5 429.5 L621 428.8 L619.7 427.9 L618.8 427.1 L618.3 426.2 L618.1 425.3" fill="none"/>
<path d="M660.7 420.5 L660.5 421.5 L660 422.4 L659.1 423.2 L657.8 424 L656.3 424.8 L654.5 425.5 L652.4 426.1 L650 426.6 L647.6 427 L644.9 427.3 L642.2 427.5 L639.4 427.5 L636.6 427.5 L633.9 427.3 L631.2 427 L628.8 426.6 L626.4 426.1 L624.3 425.5 L622.5 424.8 L621 424 L619.7 423.2 L618.8 422.4 L618.3 421.5 L618.1 420.5" fill="none"/>
<path d="M660.7 415.8 L660.5 416.7 L660 417.6 L659.1 418.5 L657.8 419.3 L656.3 420.1 L654.5 420.8 L652.4 421.4 L650 421.9 L647.6 422.3 L644.9 422.6 L642.2 422.8 L639.4 422.8 L636.6 422.8 L633.9 422.6 L631.2 422.3 L628.8 421.9 L626.4 421.4 L624.3 420.8 L622.5 420.1 L621 419.3 L619.7 418.5 L618.8 417.6 L618.3 416.7 L618.1 415.8" fill="none"/>
<path d="M660.7 411.1 L660.5 412 L660 412.9 L659.1 413.8 L657.8 414.6 L656.3 415.4 L654.5 416 L652.4 416.7 L650 417.2 L647.6 417.6 L644.9 417.9 L642.2 418 L639.4 418.1 L636.6 418 L633.9 417.9 L631.2 417.6 L628.8 417.2 L626.4 416.7 L624.3 416 L622.5 415.4 L621 414.6 L619.7 413.8 L618.8 412.9 L618.3 412 L618.1 411.1" fill="none"/>
<path d="M660.7 406.4 L660.5 407.3 L660 408.2 L659.1 409.1 L657.8 409.9 L656.3 410.6 L654.5 411.3 L652.4 411.9 L650 412.4 L647.6 412.8 L644.9 413.1 L642.2 413.3 L639.4 413.4 L636.6 413.3 L633.9 413.1 L631.2 412.8 L628.8 412.4 L626.4 411.9 L624.3 411.3 L622.5 410.6 L621 409.9 L619.7 409.1 L618.8 408.2 L618.3 407.3 L618.1 406.4" fill="none"/>
<path d="M660.7 401.7 L660.5 402.6 L660 403.5 L659.1 404.3 L657.8 405.2 L656.3 405.9 L654.5 406.6 L652.4 407.2 L650 407.7 L647.6 408.1 L644.9 408.4 L642.2 408.6 L639.4 408.7 L636.6 408.6 L633.9 408.4 L631.2 408.1 L628.8 407.7 L626.4 407.2 L624.3 406.6 L622.5 405.9 L621 405.2 L619.7 404.3 L618.8 403.5 L618.3 402.6 L618.1 401.7" fill="none"/>
<path d="M660.7 396.9 L660.5 397.9 L660 398.8 L659.1 399.6 L657.8 400.4 L656.3 401.2 L654.5 401.9 L652.4 402.5 L650 403 L647.6 403.4 L644.9 403.7 L642.2 403.9 L639.4 403.9 L636.6 403.9 L633.9 403.7 L631.2 403.4 L628.8 403 L626.4 402.5 L624.3 401.9 L622.5 401.2 L621 400.4 L619.7 399.6 L618.8 398.8 L618.3 397.9 L618.1 396.9" fill="none"/>
<path d="M658 389.4 L657.8 390.2 L657.4 391 L656.6 391.8 L655.5 392.5 L654.2 393.2 L652.6 393.8 L650.7 394.3 L648.7 394.8 L646.5 395.1 L644.2 395.4 L641.8 395.5 L639.4 395.6 L637 395.5 L634.6 395.4 L632.3 395.1 L630.1 394.8 L628.1 394.3 L626.2 393.8 L624.6 393.2 L623.3 392.5 L622.2 391.8 L621.4 391 L621 390.2 L620.8 389.4" fill="none"/>
<path d="M656.4 386.6 L656 387.2 L655.4 387.9 L654.5 388.5 L653.4 389 L652.1 389.6 L650.7 390 L649.1 390.4 L647.3 390.8 L645.4 391 L643.5 391.2 L641.4 391.4 L639.4 391.4 L637.4 391.4 L635.3 391.2 L633.4 391 L631.5 390.8 L629.7 390.4 L628.1 390 L626.7 389.6 L625.4 389 L624.3 388.5 L623.4 387.9 L622.8 387.2 L622.4 386.6" fill="none"/>
<path d="M624 383.5 C622.5 380.9 623.7 381.4 624.6 378.4 C625.4 375.3 624.8 376.3 626.8 373.2 C628.8 370.1 627.6 370.2 631.3 368.1 C635.1 365.9 634.7 366.3 639.3 366.1 C643.9 365.9 642.8 365.2 646.6 367.3 C650.5 369.5 650 369.9 652.1 373.2 C654.2 376.5 653.2 375.6 653.7 378.4 C654.3 381.1 655.7 379.5 654 382.3 C652.2 385.1 652.2 385.5 647.8 387.7 C643.4 389.8 644.8 389.5 639.3 389.4 C633.8 389.2 634.1 388.9 629.5 387.2 C624.9 385.4 625.4 386.1 624 383.5 Z" fill="#fff"/>
<path d="M651.4 374.7 L650.9 375.5 L650.4 376.2 L649.7 376.9 L648.9 377.6 L647.9 378.1 L646.9 378.7 L645.7 379.1 L644.5 379.5 L643.3 379.8 L641.9 380 L640.6 380.2 L639.2 380.2 L637.8 380.2 L636.5 380 L635.1 379.8 L633.9 379.5 L632.7 379.1 L631.5 378.7 L630.5 378.1 L629.5 377.6 L628.7 376.9 L628 376.2 L627.5 375.5 L627 374.7" fill="none"/>
<ellipse cx="639.3" cy="372.5" rx="6.4" ry="3.5" fill="none"/>
<ellipse cx="639.3" cy="372.9" rx="4.4" ry="2.1" fill="none"/>
<path d="M617.6 398 L617.6 472" fill="none" stroke-width="0.8"/>
<path d="M661.3 398 L661.3 472" fill="none" stroke-width="0.8"/>
<ellipse cx="803.5" cy="125.7" rx="10.1" ry="4.9" fill="#fff"/>
<path d="M795.9 118.4 L795.9 125.1 L800.2 127.7 L807.5 127.7 L811.2 124.7 L811.2 118.4" fill="#fff"/>
<path d="M800.2 123.3 L800.2 127.7" fill="none"/>
<path d="M807.5 123.3 L807.5 127.7" fill="none"/>
<ellipse cx="803.5" cy="118.1" rx="7.6" ry="4.7" fill="#fff"/>
<ellipse cx="803.5" cy="118" rx="5.6" ry="3.2" fill="none"/>
<ellipse cx="803.5" cy="118.2" rx="3.6" ry="1.9" fill="none"/>
<path d="M844.9 142.8 L844.9 157.5 L846.7 159.4 L850.4 159.4 L852.2 157.5 L852.2 142.8" fill="#fff"/>
<path d="M852.2 145.8 L852.2 146 L852.1 146.2 L851.9 146.4 L851.7 146.6 L851.4 146.8 L851.1 147 L850.8 147.1 L850.4 147.2 L849.9 147.3 L849.5 147.4 L849 147.4 L848.5 147.4 L848 147.4 L847.5 147.4 L847.1 147.3 L846.6 147.2 L846.2 147.1 L845.9 147 L845.6 146.8 L845.3 146.6 L845.1 146.4 L844.9 146.2 L844.8 146 L844.8 145.8" fill="none"/>
<path d="M852.2 148.9 L852.2 149.1 L852.1 149.3 L851.9 149.5 L851.7 149.7 L851.4 149.9 L851.1 150 L850.8 150.2 L850.4 150.3 L849.9 150.4 L849.5 150.4 L849 150.5 L848.5 150.5 L848 150.5 L847.5 150.4 L847.1 150.4 L846.6 150.3 L846.2 150.2 L845.9 150 L845.6 149.9 L845.3 149.7 L845.1 149.5 L844.9 149.3 L844.8 149.1 L844.8 148.9" fill="none"/>
<path d="M852.2 151.9 L852.2 152.2 L852.1 152.4 L851.9 152.6 L851.7 152.7 L851.4 152.9 L851.1 153.1 L850.8 153.2 L850.4 153.3 L849.9 153.4 L849.5 153.5 L849 153.5 L848.5 153.5 L848 153.5 L847.5 153.5 L847.1 153.4 L846.6 153.3 L846.2 153.2 L845.9 153.1 L845.6 152.9 L845.3 152.7 L845.1 152.6 L844.9 152.4 L844.8 152.2 L844.8 151.9" fill="none"/>
<path d="M852.2 155 L852.2 155.2 L852.1 155.4 L851.9 155.6 L851.7 155.8 L851.4 156 L851.1 156.1 L850.8 156.3 L850.4 156.4 L849.9 156.5 L849.5 156.5 L849 156.6 L848.5 156.6 L848 156.6 L847.5 156.5 L847.1 156.5 L846.6 156.4 L846.2 156.3 L845.9 156.1 L845.6 156 L845.3 155.8 L845.1 155.6 L844.9 155.4 L844.8 155.2 L844.8 155" fill="none"/>
<ellipse cx="848.4" cy="141" rx="8.3" ry="3.5" fill="#fff"/>
<path d="M843 141 C842.3 139.3 842.4 139 842.9 136.7 C843.5 134.4 843.2 134.7 844.9 133.3 C846.6 131.9 846.3 132.1 848.5 132.1 C850.7 132.1 850.5 131.9 852.2 133.3 C853.9 134.7 853.6 134.4 854.2 136.7 C854.7 139 854.8 139.3 854.1 141 C853.3 142.7 854.2 142 851.6 142.5 C849 142.9 848.1 142.9 845.5 142.5 C842.9 142 843.8 142.7 843 141 Z" fill="#fff"/>
<path d="M845.5 138.2 L845.5 142.5" fill="none"/>
<path d="M851.6 138.2 L851.6 142.5" fill="none"/>
<path d="M843.2 137.3 C843.5 137.6 844.1 138.5 845.5 138.7 C846.9 138.9 850.2 138.9 851.6 138.7 C853 138.5 853.5 137.6 853.9 137.3" fill="none"/>
<path d="M754 201 C754.4 202.1 755.3 204.5 756.8 207.5 C758.3 210.4 760.5 215.1 763.1 218.9 C765.6 222.7 769 227 772.1 230.1 C775.3 233.3 778.4 235.9 781.9 237.8 C785.4 239.7 789.6 240.6 793.1 241.3 C796.6 242 799.4 242.1 802.9 241.8 C806.4 241.6 810.4 240.9 814.1 239.9 C817.8 238.9 821.8 237.6 825.3 235.7 C828.8 233.8 832.3 231.2 835.1 228.7 C837.8 226.2 839.5 223.6 842 220.6 C844.6 217.6 848.2 213.5 850.4 210.8 C852.7 208.2 854.6 205.7 855.5 204.7" fill="#fff"/>
<path d="M754 200.1 C753.5 197.7 753.5 197.9 754.7 196.6 C755.8 195.3 756.1 195.4 758.9 194.5 C761.6 193.5 759.5 194.7 766.6 192.4 C773.6 190 780.4 186.5 788.9 184.4 C797.4 182.3 798 183.2 802.9 183.3 C807.8 183.3 804.3 182.9 809.9 184.5 C815.4 186.2 818.2 187.4 826.7 190.3 C835.1 193.1 840 194.6 846.2 196.8 C852.4 199.1 851.1 198.4 853.2 200.1 C855.4 201.7 855.8 201.8 855.5 204 C855.1 206.1 853 207.6 851.8 209.1 C850.7 210.7 853 207.6 850.4 210.5 C847.8 213.5 845.2 217.5 840.6 221.7 C836.1 225.9 834.8 226 830.9 228.4 C826.9 230.9 828.1 230.5 823.9 232.2 C819.6 233.9 817.9 234.3 812.7 235.7 C807.5 237.1 805.4 237.3 801.5 238.2 C797.6 239.1 798.8 239.2 795.9 239.6 C793 240.1 791.9 240.4 788.9 240.2 C786 239.9 785.5 239.9 783.3 238.5 C781.2 237.1 781.8 236.3 779.8 234.3 C777.9 232.3 778.4 233.7 774.9 230.1 C771.5 226.5 769.4 224.4 765.2 218.9 C760.9 213.4 759.4 211 756.8 206.6 C754.2 202.2 754.5 202.4 754 200.1 Z" fill="#fff"/>
<ellipse cx="762.6" cy="199.6" rx="8.8" ry="5.2" fill="none" transform="rotate(-8 762.6 199.6)"/>
<ellipse cx="760.5" cy="200.5" rx="3" ry="2.2" fill="none" transform="rotate(-8 760.5 200.5)"/>
<ellipse cx="846.5" cy="204" rx="8.9" ry="5.6" fill="none" transform="rotate(8 846.5 204)"/>
<ellipse cx="848.3" cy="204.1" rx="3" ry="2.2" fill="none"/>
<ellipse cx="790.6" cy="232.9" rx="10.5" ry="5.8" fill="none" transform="rotate(-5 790.6 232.9)"/>
<ellipse cx="790.6" cy="233.7" rx="3" ry="2.2" fill="none"/>
<path d="M756.8 206.6 C757.9 208.2 761.2 212.9 763.8 216.1 C766.3 219.3 769.4 223.1 772.1 225.9 C774.9 228.7 779.1 231.7 780.5 232.9" fill="none"/>
<path d="M801.5 235.7 C803.4 235.2 808.7 234.2 812.7 232.9 C816.6 231.6 821.3 229.4 825.3 228 C829.2 226.6 833.9 226.3 836.4 224.5 C839 222.8 838.3 219.9 840.6 217.5 C843 215.2 848.8 211.7 850.4 210.5" fill="none"/>
<ellipse cx="802.6" cy="212.3" rx="29.9" ry="14.6" fill="#fff"/>
<ellipse cx="802.8" cy="208.6" rx="29.2" ry="14.2" fill="#fff"/>
<ellipse cx="802.8" cy="203" rx="26.8" ry="18.6" fill="#fff"/>
<path d="M830.9 204.2 L832.3 204.9 L832.3 211.9" fill="none" stroke-width="1.6"/>
<path d="M776.6 202.8 L796.2 215 L814.1 215 L829.5 204.9" fill="none"/>
<ellipse cx="802.9" cy="199.8" rx="16.5" ry="10.9" fill="#fff"/>
<path d="M791.7 207.4 L791.8 206.7 L792.1 206 L792.6 205.3 L793.2 204.7 L794 204.1 L795 203.6 L796.1 203.1 L797.3 202.7 L798.6 202.4 L800 202.2 L801.4 202 L802.9 202 L804.4 202 L805.8 202.2 L807.2 202.4 L808.5 202.7 L809.7 203.1 L810.8 203.6 L811.8 204.1 L812.6 204.7 L813.2 205.3 L813.7 206 L814 206.7 L814.1 207.4" fill="none"/>
<path d="M797.3 209 L797.3 208.7 L797.5 208.3 L797.7 208 L798.1 207.7 L798.5 207.4 L798.9 207.2 L799.5 206.9 L800.1 206.7 L800.8 206.6 L801.5 206.5 L802.2 206.4 L802.9 206.4 L803.6 206.4 L804.3 206.5 L805 206.6 L805.7 206.7 L806.3 206.9 L806.9 207.2 L807.3 207.4 L807.7 207.7 L808.1 208 L808.3 208.3 L808.5 208.7 L808.5 209" fill="none"/>
<path d="M814 209.1 L813.3 209.4 L812.6 209.8 L811.8 210.1 L811 210.3 L810.1 210.6 L809.1 210.8 L808.2 211 L807.1 211.1 L806.1 211.2 L805.1 211.3 L804 211.4 L802.9 211.4 L801.8 211.4 L800.7 211.3 L799.7 211.2 L798.7 211.1 L797.6 211 L796.7 210.8 L795.7 210.6 L794.8 210.3 L794 210.1 L793.2 209.8 L792.5 209.4 L791.8 209.1" fill="none"/>
<path d="M765.4 287 L765.4 291 A38.6 20.6 0 0 0 842.6 291 L842.6 287 Z" fill="#fff"/>
<path d="M842.5 292.5 L841.6 294.9 L840.1 297.2 L838.1 299.4 L835.7 301.5 L832.8 303.4 L829.5 305.1 L825.8 306.6 L821.8 307.9 L817.6 308.9 L813.1 309.6 L808.6 310.1 L804 310.2 L799.3 310.1 L794.8 309.6 L790.3 308.9 L786.1 307.9 L782.1 306.6 L778.4 305.1 L775.1 303.4 L772.2 301.5 L769.8 299.4 L767.8 297.2 L766.3 294.9 L765.4 292.5" fill="none" stroke-width="1.0"/>
<path d="M763.2 271.5 L763.2 287 A40.7 20.8 0 0 0 844.7 287 L844.7 271.5 A40.7 20.8 0 0 0 763.2 271.5 Z" fill="#fff"/>
<path d="M844.7 281 L844.3 283.7 L843.3 286.3 L841.6 288.9 L839.2 291.3 L836.2 293.5 L832.7 295.6 L828.7 297.3 L824.3 298.8 L819.5 300 L814.5 300.9 L809.3 301.4 L804 301.6 L798.6 301.4 L793.4 300.9 L788.4 300 L783.6 298.8 L779.2 297.3 L775.2 295.6 L771.7 293.5 L768.7 291.3 L766.3 288.9 L764.6 286.3 L763.6 283.7 L763.2 281" fill="none"/>
<path d="M844.3 280.6 L843.6 283.2 L842.3 285.6 L840.4 288 L838 290.2 L835 292.3 L831.5 294.1 L827.6 295.7 L823.3 297.1 L818.8 298.2 L814 299 L809 299.4 L804 299.6 L798.9 299.4 L793.9 299 L789.1 298.2 L784.6 297.1 L780.3 295.7 L776.4 294.1 L772.9 292.3 L769.9 290.2 L767.5 288 L765.6 285.6 L764.3 283.2 L763.6 280.6" fill="none" stroke-width="0.9"/>
<path d="M762.6 273 L762.6 286" fill="none"/>
<path d="M845.4 273 L845.4 286" fill="none"/>
<path d="M765.6 270 L765.6 276 A38.4 20.6 0 0 0 842.4 276 L842.4 270 Z" fill="#fff"/>
<path d="M767.6 270.2 L767.6 273 A36.4 20.1 0 0 0 840.4 273 L840.4 270.2 Z" fill="#fff"/>
<ellipse cx="804" cy="270.2" rx="36.4" ry="20.1" fill="#fff"/>
<ellipse cx="804" cy="271.1" rx="28.7" ry="15.8" fill="#fff"/>
<clipPath id="bh"><ellipse cx="804" cy="271.1" rx="28.7" ry="15.8"/></clipPath>
<g clip-path="url(#bh)"><ellipse cx="804" cy="278.4" rx="28.6" ry="13.8" stroke-width="2.2"/><ellipse cx="804" cy="285.4" rx="18.5" ry="5.4"/></g>
<path d="M360.5 152.8 L360.5 190.3" fill="none" stroke-width="1.15" stroke-linecap="butt" stroke-dasharray="8.2 3.55" stroke-dashoffset="0.8"/>
<path d="M360 153.4 L459.2 153.4" fill="none" stroke-width="1.15" stroke-linecap="butt" stroke-dasharray="8.2 3.55" stroke-dashoffset="2.7"/>
<path d="M458.6 152.8 L458.6 524.9" fill="none" stroke-width="1.15" stroke-linecap="butt" stroke-dasharray="8.2 3.55" stroke-dashoffset="0"/>
<path d="M458 524.3 L640.8 524.3" fill="none" stroke-width="1.15" stroke-linecap="butt" stroke-dasharray="8.2 3.55" stroke-dashoffset="0.4"/>
<path d="M640.3 524.9 L640.3 496" fill="none" stroke-width="1.15" stroke-linecap="butt" stroke-dasharray="8.2 3.55" stroke-dashoffset="0.2"/>
<path d="M640.3 99.7 L640.3 136.5" fill="none" stroke-width="1.15" stroke-linecap="butt" stroke-dasharray="8.2 3.55" stroke-dashoffset="0.6"/>
<path d="M639.8 100.3 L723.1 100.3" fill="none" stroke-width="1.15" stroke-linecap="butt" stroke-dasharray="8.2 3.55" stroke-dashoffset="4.8"/>
<path d="M722.6 99.7 L722.6 356" fill="none" stroke-width="1.15" stroke-linecap="butt" stroke-dasharray="8.2 3.55" stroke-dashoffset="0"/>
<path d="M722 355.5 L804 355.5" fill="none" stroke-width="1.15" stroke-linecap="butt" stroke-dasharray="8.2 3.55" stroke-dashoffset="0"/>
<path d="M803.5 356 L803.5 321.6" fill="none" stroke-width="1.15" stroke-linecap="butt" stroke-dasharray="8.2 3.55" stroke-dashoffset="0"/>
<path d="M803.6 134.5 L803.6 200" fill="none" stroke-width="1.15" stroke-linecap="butt" stroke-dasharray="8.2 3.55" stroke-dashoffset="0"/>
<path d="M848.5 160 L848.5 198.5" fill="none" stroke-width="1.15" stroke-linecap="butt" stroke-dasharray="8.2 3.55" stroke-dashoffset="0"/>
<path d="M323.2 495.2 L363.5 473.2" fill="none" stroke-width="1.15" stroke-linecap="butt" stroke-dasharray="8.2 3.55" stroke-dashoffset="0"/>
<path d="M331.6 490.4 L331.6 455.8 L340 452" fill="none" stroke-width="1.15" stroke-linecap="butt" stroke-dasharray="8.2 3.55" stroke-dashoffset="0"/>
<path d="M360.5 438.6 L369.5 434.6" fill="none" stroke-width="1.15" stroke-linecap="butt" stroke-dasharray="8.2 3.55" stroke-dashoffset="0"/>
<path d="M397.5 416.5 L413.2 409.4 L413.2 442.8 L418 440.6" fill="none" stroke-width="1.15" stroke-linecap="butt" stroke-dasharray="8.2 3.55" stroke-dashoffset="0"/>
<path d="M400.7 450.6 L413.6 444.7" fill="none" stroke-width="1.15" stroke-linecap="butt" stroke-dasharray="8.2 3.55" stroke-dashoffset="0"/>
<path d="M421 438.2 L433.5 431.8" fill="none" stroke-width="1.15" stroke-linecap="butt" stroke-dasharray="8.2 3.55" stroke-dashoffset="0"/>
</g>
<g>
<text x="91.8" y="273" font-size="13" textLength="55" lengthAdjust="spacingAndGlyphs">54302K</text>
<text x="154.3" y="273" font-size="13" textLength="29.3" lengthAdjust="spacingAndGlyphs">(RH)</text>
<text x="91.8" y="285.9" font-size="13" textLength="55" lengthAdjust="spacingAndGlyphs">54303K</text>
<text x="154.3" y="285.9" font-size="13" textLength="29.3" lengthAdjust="spacingAndGlyphs">(LH)</text>
<text x="654.6" y="72" font-size="13" textLength="52.6" lengthAdjust="spacingAndGlyphs">54080B</text>
<text x="518.9" y="202.7" font-size="13" textLength="49.4" lengthAdjust="spacingAndGlyphs">54010M</text>
<text x="513.9" y="337.6" font-size="13" textLength="44.5" lengthAdjust="spacingAndGlyphs">54035</text>
<text x="505.4" y="429.3" font-size="13" textLength="51.4" lengthAdjust="spacingAndGlyphs">54050M</text>
<text x="887" y="145.7" font-size="13" textLength="52.5" lengthAdjust="spacingAndGlyphs">54080A</text>
<text x="887.5" y="204.2" font-size="13" textLength="44.4" lengthAdjust="spacingAndGlyphs">54320</text>
<text x="955.8" y="204.2" font-size="13" textLength="30.4" lengthAdjust="spacingAndGlyphs">(RH)</text>
<text x="887.5" y="217.3" font-size="13" textLength="63.3" lengthAdjust="spacingAndGlyphs">54320+A</text>
<text x="955.8" y="217.3" font-size="13" textLength="30.4" lengthAdjust="spacingAndGlyphs">(LH)</text>
<text x="887.1" y="289.7" font-size="13" textLength="46.8" lengthAdjust="spacingAndGlyphs">54325</text>
<text x="271.5" y="474.8" font-size="13" textLength="51.7" lengthAdjust="spacingAndGlyphs">40056X</text>
<text x="354.7" y="543.9" font-size="13" textLength="61.3" lengthAdjust="spacingAndGlyphs">54080BA</text>
<text x="957.2" y="558.6" font-size="15.8" textLength="80.2" lengthAdjust="spacingAndGlyphs">J401013X</text>
</g>
</svg>
</body></html>
